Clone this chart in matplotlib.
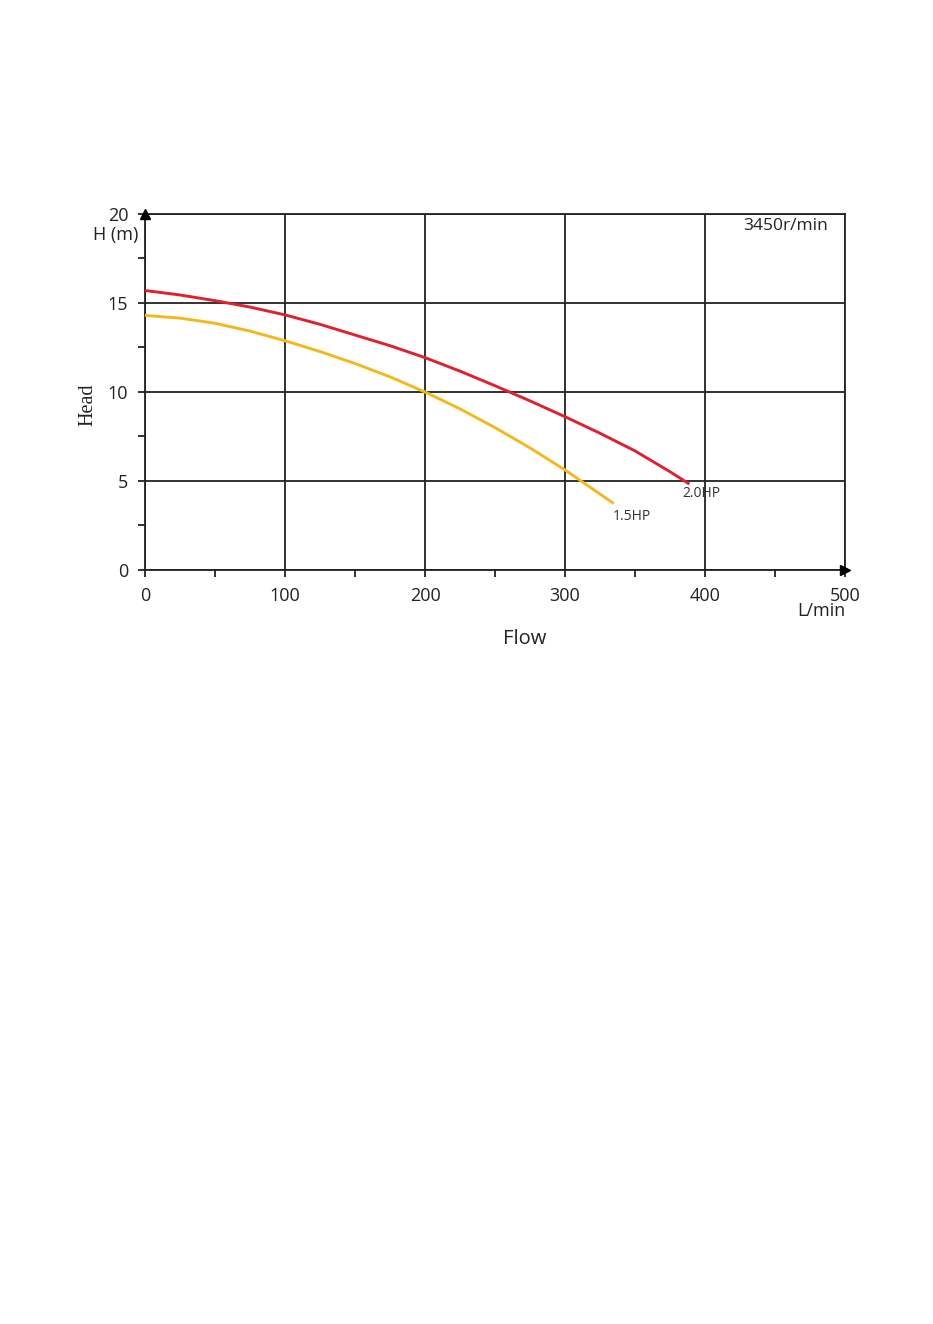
import matplotlib
matplotlib.use("Agg")
import matplotlib.pyplot as plt
from matplotlib.ticker import MultipleLocator

# pump curves (flow L/min, head m)
flow_20hp = [0, 25, 50, 75, 100, 125, 150, 175, 200, 225, 250, 275, 300, 325, 350, 375, 388]
head_20hp = [15.7, 15.45, 15.13, 14.77, 14.33, 13.8, 13.2, 12.6, 11.93, 11.17, 10.35,
             9.5, 8.61, 7.68, 6.69, 5.52, 4.87]
flow_15hp = [0, 25, 50, 75, 100, 125, 150, 175, 200, 225, 250, 275, 300, 334]
head_15hp = [14.3, 14.15, 13.86, 13.42, 12.88, 12.27, 11.6, 10.85, 10.0, 9.05, 8.0,
             6.86, 5.62, 3.78]

X_TICKS = [0, 100, 200, 300, 400, 500]
Y_TICKS = [0, 5, 10, 15, 20]

RED = "#e0202e"
YELLOW = "#f3b81d"
FONT = "Open Sans"

fig = plt.figure(figsize=(9.33, 13.24), dpi=100)
ax = fig.add_axes([0.1554, 0.5695, 0.7503, 0.2689])

ax.plot(flow_20hp, head_20hp, color=RED, lw=2.1, zorder=3)
ax.plot(flow_15hp, head_15hp, color=YELLOW, lw=2.1, zorder=3)

ax.set_xlim(0, 500)
ax.set_ylim(0, 20)
ax.set_xticks(X_TICKS)
ax.set_yticks(Y_TICKS)
ax.xaxis.set_minor_locator(MultipleLocator(50))
ax.yaxis.set_minor_locator(MultipleLocator(2.5))
ax.grid(True, which="major", color="#222222", lw=1.3)
ax.set_axisbelow(True)
for sp in ax.spines.values():
    sp.set_color("#222222")
    sp.set_linewidth(1.3)
ax.tick_params(which="both", direction="out", length=5, width=1.3, color="#222222",
               labelsize=13, labelcolor="#222222", pad=7)
for lab in ax.get_xticklabels() + ax.get_yticklabels():
    lab.set_family(FONT)

# axis arrows
ax.plot(0, 1, marker="^", color="black", markersize=7, transform=ax.transAxes, clip_on=False, zorder=5)
ax.plot(1, 0, marker=">", color="black", markersize=7, transform=ax.transAxes, clip_on=False, zorder=5)

ax.text(334, 3.0, "1.5HP", fontsize=10, family=FONT, color="#333333", va="center", ha="left")
ax.text(384, 4.3, "2.0HP", fontsize=10, family=FONT, color="#333333", va="center", ha="left")
ax.text(488, 19.3, "3450r/min", fontsize=12.5, family=FONT, color="#222222", va="center", ha="right")

ax.text(-5, 18.8, "H (m)", fontsize=13, family=FONT, color="#222222", va="center", ha="right")
ax.text(483, -2.3, "L/min", fontsize=13, family=FONT, color="#222222", va="center", ha="center")
ax.text(271, -3.9, "Flow", fontsize=14.5, family=FONT, color="#222222", va="center", ha="center")
ax.text(-41, 9.3, "Head", fontsize=14.5, family="Liberation Serif", color="#222222",
        va="center", ha="center", rotation=90)

fig.savefig("out.png", dpi=100)
